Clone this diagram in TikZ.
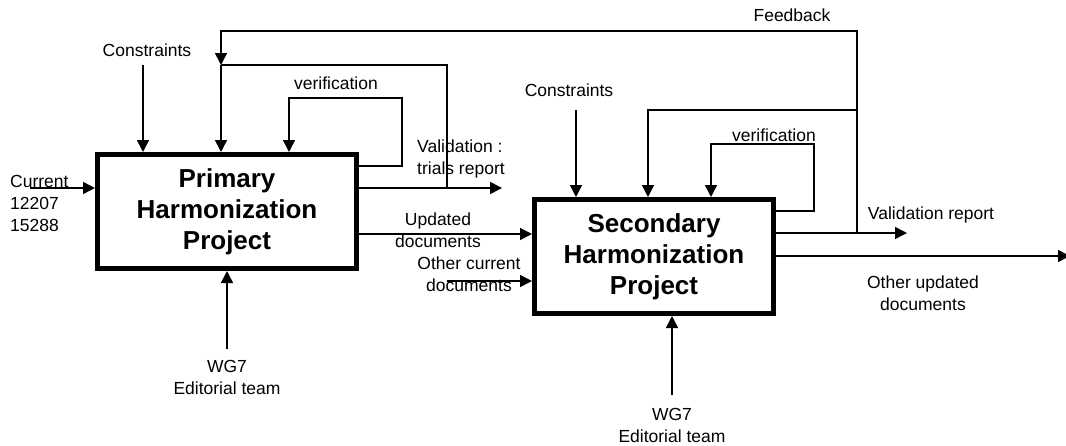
\documentclass[tikz,border=0pt]{standalone}
\usepackage{fontspec}
\setmainfont{Liberation Sans}
\usetikzlibrary{arrows.meta}

\begin{document}
\begin{tikzpicture}[x=1pt,y=-1pt,font=\fontsize{17.5}{22}\selectfont,>={Triangle[length=12pt,width=12pt]},
box/.style={draw,line width=5pt,minimum width=259pt,minimum height=114pt,align=center,font=\fontsize{26}{31}\selectfont\bfseries},
lbl/.style={inner sep=0pt,align=center},
arr/.style={->,line width=1.5pt},
wire/.style={line width=1.5pt}]
\useasboundingbox (0,0) rectangle (1066,445);
\node[box] (prim) at (227,211.5) {Primary\\Harmonization\\Project};
\node[box,minimum width=239pt] (sec) at (654,256.5) {Secondary\\Harmonization\\Project};

% labels
\node[lbl,anchor=west,align=left] (cur) at (10,203) {Current\\12207\\15288};
\node[lbl] (conA) at (147,50) {Constraints};
\node[lbl] (verA) at (336,83) {verification};
\node[lbl,anchor=west,align=left] (valA) at (417,159) {Validation :\\trials report};
\node[lbl] (upd) at (438,230) {Updated\\documents};
\node[lbl] (oth) at (469,274) {Other current\\documents};
\node[lbl] (wgA) at (227,377) {WG7\\Editorial team};
\node[lbl] (conB) at (569,90) {Constraints};
\node[lbl] (verB) at (774,135) {verification};
\node[lbl] (fb) at (792,15) {Feedback};
\node[lbl] (valB) at (931,215) {Validation report};
\node[lbl] (othB) at (923,293) {Other updated\\documents};
\node[lbl] (wgBl) at (672,425) {WG7\\Editorial team};

% end points and bends
\coordinate (curIn) at (30,188);
\coordinate (conAtop) at (143,65);
\coordinate (fbDrop) at (221,65);
\coordinate (fbTopL) at (221,31);
\coordinate (fbTopR) at (857,31);
\coordinate (fbR) at (857,233);
\coordinate (trialsUp) at (447,188);
\coordinate (trialsEnd) at (502,188);
\coordinate (verAr) at (402,166);
\coordinate (verAl) at (289,98);
\coordinate (updY) at (450,234);
\coordinate (ocIn) at (447,281);
\coordinate (wgAin) at (227,349);
\coordinate (conBtop) at (576,110);
\coordinate (fbInner) at (648,110);
\coordinate (verBr) at (814,211);
\coordinate (verBl) at (711,144);
\coordinate (valEnd) at (907,233);
\coordinate (ouEnd) at (1070,256);
\coordinate (wgBin) at (672,395);

% primary project
\draw[arr] (curIn) -- (curIn -| prim.west);
\draw[arr] (conAtop) -- (conAtop |- prim.north);
\draw[arr] (prim.east |- trialsEnd) -- (trialsEnd);
\draw[wire] (trialsUp) -- (trialsUp |- fbDrop) -- (fbDrop);
\draw[arr] (fbDrop) -- (fbDrop |- prim.north);
\draw[arr] (fbR) -- (fbTopR) -- (fbTopL) -- (fbDrop);
\draw[arr] (prim.east |- verAr) -- (verAr) |- (verAl) -- (verAl |- prim.north);
\draw[arr] (prim.east |- updY) -- (sec.west |- updY);
\draw[arr] (wgAin) -- (prim.south);

% secondary project
\draw[arr] (ocIn) -- (ocIn -| sec.west);
\draw[arr] (conBtop) -- (conBtop |- sec.north);
\draw[arr] (fbTopR |- fbInner) -- (fbInner) -- (fbInner |- sec.north);
\draw[arr] (sec.east |- verBr) -- (verBr) |- (verBl) -- (verBl |- sec.north);
\draw[arr] (sec.east |- valEnd) -- (valEnd);
\draw[arr] (sec.east |- ouEnd) -- (ouEnd);
\draw[arr] (wgBin) -- (wgBin |- sec.south);
\end{tikzpicture}
\end{document}
